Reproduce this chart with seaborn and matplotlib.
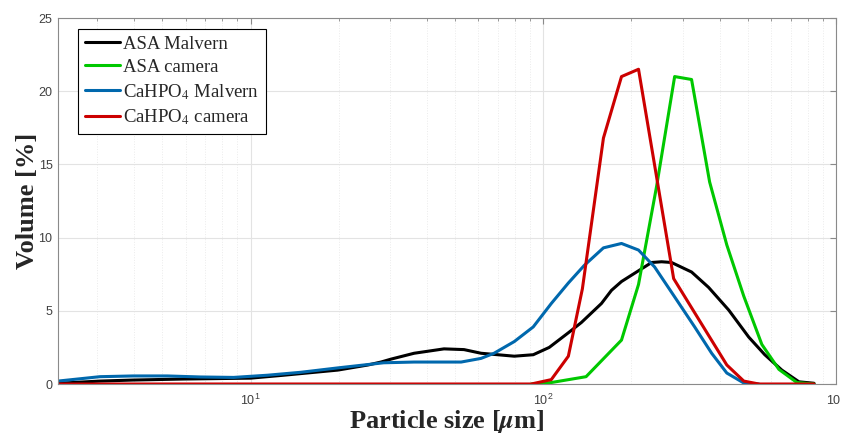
import matplotlib
matplotlib.use('Agg')
import matplotlib.pyplot as plt
from matplotlib.ticker import LogLocator, NullFormatter
import seaborn as sns

# particle size [um] / volume [%]
asa_malvern_size = [2.2, 3.06, 3.97, 5.9, 10, 12.97, 19.86, 25.2, 27.9, 30.2, 36.2, 45.8, 53.6, 61.3,
                    79.6, 92.4, 104.8, 121.8, 134.9, 158, 171, 185, 234.4, 253.6, 274.2, 321, 367,
                    430, 503.5, 571, 653, 747, 841]
asa_malvern_vol = [0.05, 0.2, 0.27, 0.34, 0.4, 0.6, 0.95, 1.3, 1.5, 1.7, 2.1, 2.4, 2.35, 2.1,
                   1.9, 2.0, 2.5, 3.5, 4.2, 5.5, 6.4, 7.0, 8.3, 8.35, 8.3, 7.65, 6.6,
                   5.05, 3.2, 2.0, 0.95, 0.15, 0.05]

asa_camera_size = [91, 106.5, 140, 185, 211.5, 243.8, 281, 321, 370, 423.5, 484, 558, 638, 735, 841]
asa_camera_vol = [0, 0.1, 0.5, 3.0, 6.8, 13.5, 21.0, 20.8, 13.8, 9.5, 6.0, 2.7, 1.0, 0.1, 0]

cahpo4_malvern_size = [2.2, 3.06, 3.97, 5.2, 6.74, 8.75, 11.43, 14.84, 19.86, 28.5, 36.2, 52.4, 61.3,
                       67.9, 79.6, 92.4, 106.5, 121.8, 138, 160.5, 185, 211.5, 239.9, 281, 328.9,
                       376, 423.5, 484, 545]
cahpo4_malvern_vol = [0.2, 0.5, 0.55, 0.55, 0.48, 0.45, 0.6, 0.8, 1.1, 1.45, 1.5, 1.5, 1.75,
                      2.1, 2.9, 3.9, 5.5, 6.9, 8.1, 9.3, 9.6, 9.15, 8.0, 5.95, 3.9,
                      2.1, 0.75, 0.07, 0]

cahpo4_camera_size = [2.2, 91, 106.5, 121.8, 136, 160.5, 185, 211.5, 278.8, 423.5, 484, 545, 841]
cahpo4_camera_vol = [0, 0, 0.3, 1.9, 6.5, 16.8, 21.0, 21.5, 7.2, 1.3, 0.2, 0, 0]

series = [
    ('ASA Malvern', asa_malvern_size, asa_malvern_vol, 'black'),
    ('ASA camera', asa_camera_size, asa_camera_vol, '#00c800'),
    ('CaHPO$_4$ Malvern', cahpo4_malvern_size, cahpo4_malvern_vol, '#0068ad'),
    ('CaHPO$_4$ camera', cahpo4_camera_size, cahpo4_camera_vol, '#cc0000'),
]

# ====
# plot
# ====

sns.set_style('white')
plt.rcParams['font.family'] = ['Liberation Sans', 'DejaVu Sans']
plt.rcParams['mathtext.fontset'] = 'stix'

fig = plt.figure(figsize=(8.41, 4.34), dpi=100)
ax = fig.add_axes([0.069, 0.1152, 0.9251, 0.8433])

for label, x, y, c in series:
    sns.lineplot(x=x, y=y, color=c, lw=2.2, label=label, ax=ax, sort=False, estimator=None)

ax.set_xscale('log')
ax.set_xlim(2.2, 1000)
ax.set_ylim(0, 25)
ax.set_yticks([0, 5, 10, 15, 20, 25])
ax.xaxis.set_minor_locator(LogLocator(base=10, subs=range(2, 10)))
ax.xaxis.set_minor_formatter(NullFormatter())

ax.grid(which='major', color='#e3e3e3', lw=0.8)
ax.grid(which='minor', axis='x', color='#ebebeb', lw=0.7, ls=':')
ax.set_axisbelow(True)

for s in ax.spines.values():
    s.set_color('#8a8a8a')
    s.set_linewidth(0.8)
ax.tick_params(which='both', direction='in', top=True, right=True, color='#8a8a8a',
               labelsize=9, labelcolor='#404040')
ax.tick_params(which='major', length=4)
ax.tick_params(which='minor', length=2.5)
ax.tick_params(axis='x', pad=6)
ax.tick_params(axis='y', pad=4)

ax.set_xlabel('Particle size [$\\boldsymbol{\\mu}$m]', family='Liberation Serif', weight='bold', fontsize=19)
ax.set_ylabel('Volume [%]', family='Liberation Serif', weight='bold', fontsize=19)
ax.xaxis.set_label_coords(0.5, -0.066)
ax.yaxis.set_label_coords(-0.025, 0.5)

leg = ax.legend(loc='upper left', bbox_to_anchor=(0.0257, 0.97), borderaxespad=0,
                prop={'family': 'Liberation Serif', 'size': 13.5}, fancybox=False,
                framealpha=1, edgecolor='black', handlelength=1.9, handletextpad=0.15,
                labelspacing=0.32, borderpad=0.35)
leg.get_frame().set_linewidth(0.8)

plt.savefig('out.png', dpi=100)
